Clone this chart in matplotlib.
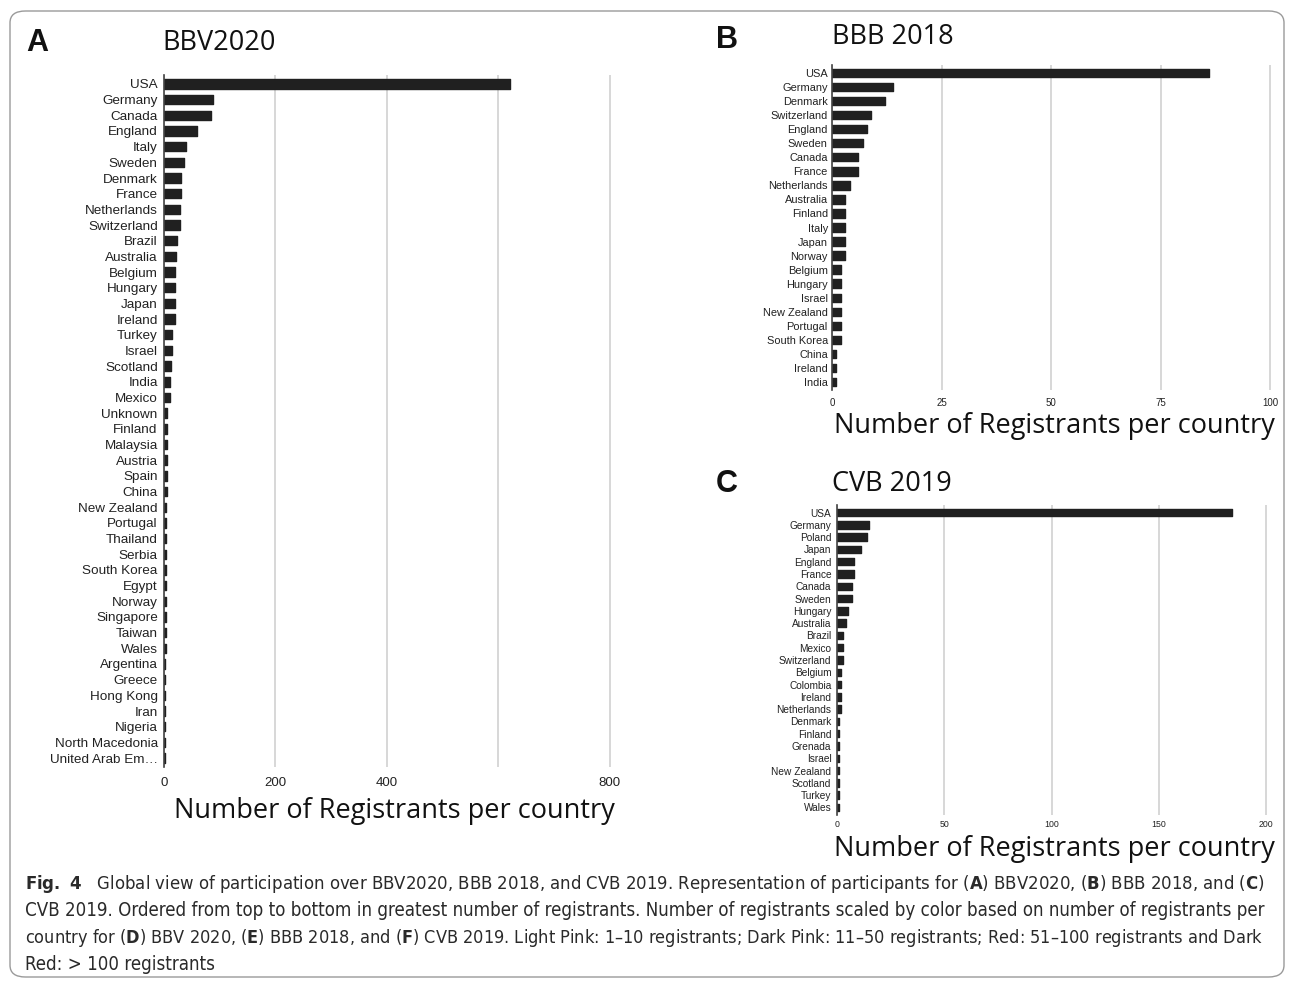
import matplotlib
matplotlib.use("Agg")
import matplotlib.pyplot as plt
from matplotlib.patches import FancyBboxPatch
from matplotlib import font_manager

# ---------------- data ----------------
a_countries = ["USA", "Germany", "Canada", "England", "Italy", "Sweden", "Denmark", "France",
               "Netherlands", "Switzerland", "Brazil", "Australia", "Belgium", "Hungary", "Japan",
               "Ireland", "Turkey", "Israel", "Scotland", "India", "Mexico", "Unknown", "Finland",
               "Malaysia", "Austria", "Spain", "China", "New Zealand", "Portugal", "Thailand",
               "Serbia", "South Korea", "Egypt", "Norway", "Singapore", "Taiwan", "Wales",
               "Argentina", "Greece", "Hong Kong", "Iran", "Nigeria", "North Macedonia",
               "United Arab Em\u2026"]
a_values = [620, 88, 84, 60, 39, 35, 31, 31, 29, 29, 23, 21, 19, 19, 19, 19, 15, 15, 12, 11, 11,
            6, 6, 6, 5, 5, 5, 4, 4, 4, 3, 3, 3, 3, 3, 3, 3, 1, 1, 1, 1, 1, 1, 1]
a_ticks = [0, 200, 400, 600, 800]
a_ticklabels = ["0", "200", "400", "", "800"]

b_countries = ["USA", "Germany", "Denmark", "Switzerland", "England", "Sweden", "Canada", "France",
               "Netherlands", "Australia", "Finland", "Italy", "Japan", "Norway", "Belgium",
               "Hungary", "Israel", "New Zealand", "Portugal", "South Korea", "China", "Ireland",
               "India"]
b_values = [86, 14, 12, 9, 8, 7, 6, 6, 4, 3, 3, 3, 3, 3, 2, 2, 2, 2, 2, 2, 1, 1, 1]
b_ticks = [0, 25, 50, 75, 100]

c_countries = ["USA", "Germany", "Poland", "Japan", "England", "France", "Canada", "Sweden",
               "Hungary", "Australia", "Brazil", "Mexico", "Switzerland", "Belgium", "Colombia",
               "Ireland", "Netherlands", "Denmark", "Finland", "Grenada", "Israel", "New Zealand",
               "Scotland", "Turkey", "Wales"]
c_values = [184, 15, 14, 11, 8, 8, 7, 7, 5, 4, 3, 3, 3, 2, 2, 2, 2, 1, 1, 1, 1, 1, 1, 1, 1]
c_ticks = [0, 50, 100, 150, 200]

# ---------------- figure ----------------
W, H = 1293, 981
fig = plt.figure(figsize=(W / 100, H / 100), dpi=100)
fig.patch.set_facecolor("white")

# pick a condensed face for the caption when one is installed
cond_path = font_manager.findfont(font_manager.FontProperties(family="DejaVu Sans", stretch="condensed"))
HAS_COND = "ondensed" in cond_path
if HAS_COND:
    plt.rcParams["mathtext.fontset"] = "custom"
    plt.rcParams["mathtext.bf"] = "DejaVu Sans:weight=bold:stretch=condensed"
    plt.rcParams["mathtext.rm"] = "DejaVu Sans:stretch=condensed"
else:
    plt.rcParams["mathtext.fontset"] = "dejavusans"

BAR = "#202020"
GRID = "#d4d4d4"
LABEL_FONT = ["Liberation Sans", "DejaVu Sans"]
BIG_FONT = ["Open Sans", "DejaVu Sans"]


def px_axes(left, top, right, bottom):
    return fig.add_axes([left / W, 1 - bottom / H, (right - left) / W, (bottom - top) / H])


def panel(ax, cats, vals, ticks, ticklabels, xmax, ylim, ysize, xsize, barh, ypad, xpad):
    ypos = list(range(len(cats)))
    bars = ax.barh(ypos, vals, height=barh, color=BAR, zorder=3,
                   edgecolor=BAR, linewidth=1.0)
    for b in bars:
        b.set_joinstyle("round")
    ax.set_xlim(0, xmax)
    ax.set_ylim(*ylim)
    ax.set_yticks(ypos)
    ax.set_yticklabels(cats, fontsize=ysize, family=LABEL_FONT, color="#222222")
    ax.set_xticks(ticks)
    ax.set_xticklabels(ticklabels, fontsize=xsize, family=LABEL_FONT, color="#222222")
    ax.tick_params(axis="both", length=0)
    ax.tick_params(axis="y", pad=ypad)
    ax.tick_params(axis="x", pad=xpad)
    ax.grid(axis="x", color=GRID, linewidth=1.3, zorder=0)
    for s in ["top", "right", "bottom"]:
        ax.spines[s].set_visible(False)
    ax.spines["left"].set_color("#444444")
    ax.spines["left"].set_linewidth(1.2)
    ax.spines["left"].set_zorder(4)
    ax.set_facecolor("none")


# Panel A
axA = px_axes(164, 75, 621, 767)
panel(axA, a_countries, a_values, a_ticks, a_ticklabels, 820, (43.57, -0.57), 9.7, 9.5, 0.6, 4.5, 7)
# Panel B
axB = px_axes(832, 65, 1279, 390)
panel(axB, b_countries, b_values, b_ticks, [str(t) for t in b_ticks], 102, (22.57, -0.57), 7.9, 7, 0.6, 3, 5.5)
# Panel C
axC = px_axes(837, 505, 1277, 815)
panel(axC, c_countries, c_values, c_ticks, [str(t) for t in c_ticks], 205, (24.62, -0.62), 7.3, 6.3, 0.6, 4, 3.5)


def ftext(x, y, s, **kw):
    return fig.text(x / W, 1 - y / H, s, **kw)


ftext(26, 43, "A", fontsize=22, fontweight="bold", family=LABEL_FONT, va="center", ha="left", color="#111111")
ftext(716, 40, "B", fontsize=22, fontweight="bold", family=LABEL_FONT, va="center", ha="left", color="#111111")
ftext(716, 484, "C", fontsize=22, fontweight="bold", family=LABEL_FONT, va="center", ha="left", color="#111111")

ftext(162, 43, "BBV2020", fontsize=19.5, family=BIG_FONT, va="center", ha="left", color="#111111")
ftext(832, 37, "BBB 2018", fontsize=19.5, family=BIG_FONT, va="center", ha="left", color="#111111")
ftext(832, 484, "CVB 2019", fontsize=19.5, family=BIG_FONT, va="center", ha="left", color="#111111")

ftext(394, 811, "Number of Registrants per country", fontsize=19.5, family=BIG_FONT, va="center", ha="center", color="#111111")
ftext(1054, 426, "Number of Registrants per country", fontsize=19.5, family=BIG_FONT, va="center", ha="center", color="#111111")
ftext(1054, 849, "Number of Registrants per country", fontsize=19.5, family=BIG_FONT, va="center", ha="center", color="#111111")

# Caption
EN = "\u2013"
cap_lines = [
    r"$\mathbf{Fig.\ 4}$   Global view of participation over BBV2020, BBB 2018, and CVB 2019. Representation of participants for ($\mathbf{A}$) BBV2020, ($\mathbf{B}$) BBB 2018, and ($\mathbf{C}$)",
    "CVB 2019. Ordered from top to bottom in greatest number of registrants. Number of registrants scaled by color based on number of registrants per",
    r"country for ($\mathbf{D}$) BBV 2020, ($\mathbf{E}$) BBB 2018, and ($\mathbf{F}$) CVB 2019. Light Pink: 1" + EN
    + "10 registrants; Dark Pink: 11" + EN + "50 registrants; Red: 51" + EN + "100 registrants and Dark",
    "Red: > 100 registrants",
]
cap_y = [884, 911, 938, 964]
cap_targets = [1237.0, 1245.0, 1241.0, None]
cap_kw = dict(family="DejaVu Sans", va="center", ha="left", color="#2a2a2a")
if HAS_COND:
    cap_kw["fontstretch"] = "condensed"
texts = [ftext(25, y, s, fontsize=12.5, **cap_kw) for s, y in zip(cap_lines, cap_y)]

# fit caption widths to the reference line lengths
renderer = fig.canvas.get_renderer()
sizes = []
for t, tgt in zip(texts, cap_targets):
    if tgt is None:
        sizes.append(None)
        continue
    w = t.get_window_extent(renderer).width
    sizes.append(12.5 * tgt / w)
sizes[3] = sizes[1]
for t, fs in zip(texts, sizes):
    t.set_fontsize(fs)

# Outer border
box = FancyBboxPatch((10 / W, 1 - 977 / H), (1284 - 10) / W, (977 - 11) / H,
                     boxstyle="round,pad=0,rounding_size=0.012", transform=fig.transFigure,
                     facecolor="none", edgecolor="#9a9a9a", linewidth=1.0)
fig.patches.append(box)

fig.savefig("out.png", dpi=100, facecolor="white")
